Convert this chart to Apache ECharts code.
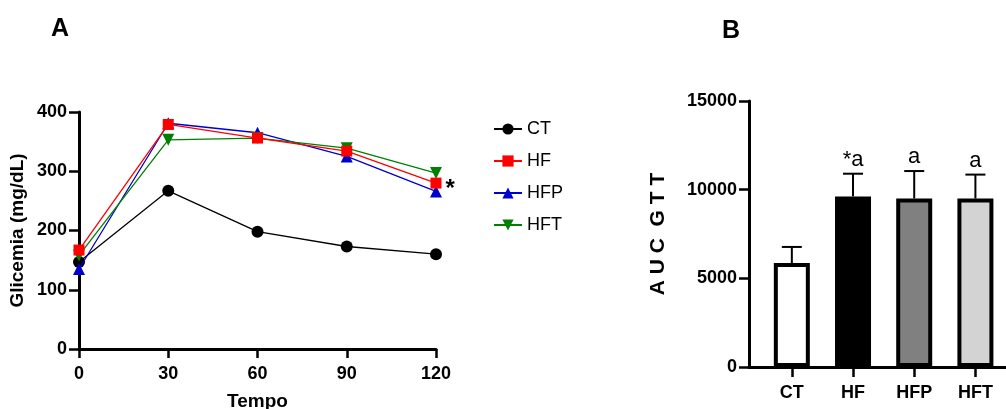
<!DOCTYPE html>
<html>
<head>
<meta charset="utf-8">
<script src="https://cdn.jsdelivr.net/npm/echarts@6/dist/echarts.min.js"></script>
<style>
  html, body { margin: 0; padding: 0; background: #fff; }
  #main { width: 1006px; height: 409px; }
</style>
</head>
<body>
<div id="main"></div>
<script>
// panel A: glicemia over time
var tempo = [0, 30, 60, 90, 120];
var ctVals = [147, 267, 198, 173, 160];
var hfVals = [167, 379, 356, 334, 280];
var hfpVals = [135, 381, 365, 325, 266];
var hftVals = [158, 353, 356, 339, 297];

// panel B: AUC GTT
var groups = ['CT', 'HF', 'HFP', 'HFT'];
var aucMean = [5860, 9620, 9500, 9500];
var aucErr = [6770, 10900, 11050, 10850];
var aucMarks = ['', '*a', 'a', 'a'];
var barColors = ['#ffffff', '#000000', '#808080', '#d3d3d3'];

var chart = echarts.init(document.getElementById('main'));
var font = 'Arial, "Liberation Sans", sans-serif';

function pairs(vals) {
    return tempo.map(function (t, i) { return [t, vals[i]]; });
}

var hfData = pairs(hfVals);
hfData[4] = {
    value: hfData[4],
    label: { show: true, formatter: '*', position: 'right', distance: 4,
             fontSize: 24, fontWeight: 'bold', color: '#000', fontFamily: font, offset: [0, 6] }
};

var tickFont = { fontSize: 18, fontWeight: 'bold', color: '#000', fontFamily: font };

var option = {
    animation: false,
    textStyle: { fontFamily: font },
    graphic: [
        { type: 'text', left: 51, top: 17, style: { text: 'A', font: 'bold 25px ' + font, fill: '#000' } },
        { type: 'text', left: 722, top: 19, style: { text: 'B', font: 'bold 25px ' + font, fill: '#000' } }
    ],
    legend: {
        data: ['CT', 'HF', 'HFP', 'HFT'],
        orient: 'vertical',
        left: 488, top: 115,
        itemWidth: 28, itemHeight: 14, itemGap: 14,
        textStyle: { fontSize: 18, color: '#000', fontFamily: font }
    },
    grid: [
        { left: 79, top: 112, width: 357, height: 237, containLabel: false, outerBoundsMode: 'none' },
        { left: 749, top: 101, right: 0, height: 266, containLabel: false, outerBoundsMode: 'none' }
    ],
    xAxis: [{
        gridIndex: 0, type: 'value', min: 0, max: 120, interval: 30,
        name: 'Tempo', nameLocation: 'middle', nameGap: 43,
        nameTextStyle: { fontSize: 19, fontWeight: 'bold', color: '#000' },
        axisLine: { lineStyle: { color: '#000', width: 3 } },
        axisTick: { length: 9, lineStyle: { color: '#000', width: 2.5 } },
        axisLabel: Object.assign({ margin: 16 }, tickFont),
        splitLine: { show: false }
    }, {
        gridIndex: 1, type: 'value', min: -0.7, max: 3.5,
        axisLine: { lineStyle: { color: '#000', width: 3 } },
        axisTick: { length: 10, customValues: [0, 1, 2, 3], lineStyle: { color: '#000', width: 2.5 } },
        axisLabel: Object.assign({
            customValues: [0, 1, 2, 3],
            formatter: function (v) { return groups[Math.round(v)]; },
            margin: 17
        }, tickFont),
        splitLine: { show: false }
    }],
    yAxis: [{
        gridIndex: 0, type: 'value', min: 0, max: 400, interval: 100,
        name: 'Glicemia (mg/dL)', nameLocation: 'middle', nameGap: 52,
        nameTextStyle: { fontSize: 19, fontWeight: 'bold', color: '#000' },
        axisLine: { show: true, onZero: false, lineStyle: { color: '#000', width: 3 } },
        axisTick: { show: true, length: 10, lineStyle: { color: '#000', width: 2.5 } },
        axisLabel: Object.assign({ margin: 12 }, tickFont),
        splitLine: { show: false }
    }, {
        gridIndex: 1, type: 'value', min: 0, max: 15000, interval: 5000,
        name: 'A U C  G T T', nameLocation: 'middle', nameGap: 80,
        nameTextStyle: { fontSize: 21, fontWeight: 'bold', color: '#000' },
        axisLine: { show: true, onZero: false, lineStyle: { color: '#000', width: 3 } },
        axisTick: { show: true, length: 10, lineStyle: { color: '#000', width: 2.5 } },
        axisLabel: Object.assign({ margin: 12, formatter: function (v) { return String(v); } }, tickFont),
        splitLine: { show: false }
    }],
    series: [
        {
            name: 'CT', type: 'line', xAxisIndex: 0, yAxisIndex: 0,
            data: pairs(ctVals), symbol: 'circle', symbolSize: 12, z: 2,
            itemStyle: { color: '#000' }, lineStyle: { color: '#000', width: 1.3 }
        },
        {
            name: 'HFP', type: 'line', xAxisIndex: 0, yAxisIndex: 0,
            data: pairs(hfpVals), symbol: 'triangle', symbolSize: 12, z: 3,
            itemStyle: { color: '#0000cc' }, lineStyle: { color: '#0000cc', width: 1.3 }
        },
        {
            name: 'HFT', type: 'line', xAxisIndex: 0, yAxisIndex: 0,
            data: pairs(hftVals), symbol: 'triangle', symbolRotate: 180, symbolSize: 12, z: 3,
            itemStyle: { color: '#008000' }, lineStyle: { color: '#008000', width: 1.3 }
        },
        {
            name: 'HF', type: 'line', xAxisIndex: 0, yAxisIndex: 0,
            data: hfData, symbol: 'rect', symbolSize: 11, z: 4,
            itemStyle: { color: '#ff0000' }, lineStyle: { color: '#ff0000', width: 1.3 }
        },
        {
            type: 'bar', xAxisIndex: 1, yAxisIndex: 1, barWidth: 36, z: 3,
            data: aucMean.map(function (v, i) {
                return { value: [i, v], itemStyle: { color: barColors[i], borderColor: '#000', borderWidth: 4 } };
            })
        },
        {
            type: 'custom', xAxisIndex: 1, yAxisIndex: 1, z: 2,
            data: aucMean.map(function (v, i) { return [i, v, aucErr[i]]; }),
            renderItem: function (params, api) {
                var i = api.value(0);
                var base = api.coord([i, api.value(1)]);
                var top = api.coord([i, api.value(2)]);
                var children = [
                    { type: 'line', shape: { x1: base[0], y1: base[1], x2: top[0], y2: top[1] },
                      style: { stroke: '#000', lineWidth: 2 } },
                    { type: 'line', shape: { x1: top[0] - 10, y1: top[1], x2: top[0] + 10, y2: top[1] },
                      style: { stroke: '#000', lineWidth: 2 } }
                ];
                var mark = aucMarks[params.dataIndex];
                if (mark) {
                    children.push({ type: 'text', x: top[0], y: top[1] - 3,
                        style: { text: mark, font: '22px ' + font, fill: '#000',
                                 textAlign: 'center', textVerticalAlign: 'bottom' } });
                }
                return { type: 'group', children: children };
            }
        }
    ]
};

chart.setOption(option);
</script>
</body>
</html>
